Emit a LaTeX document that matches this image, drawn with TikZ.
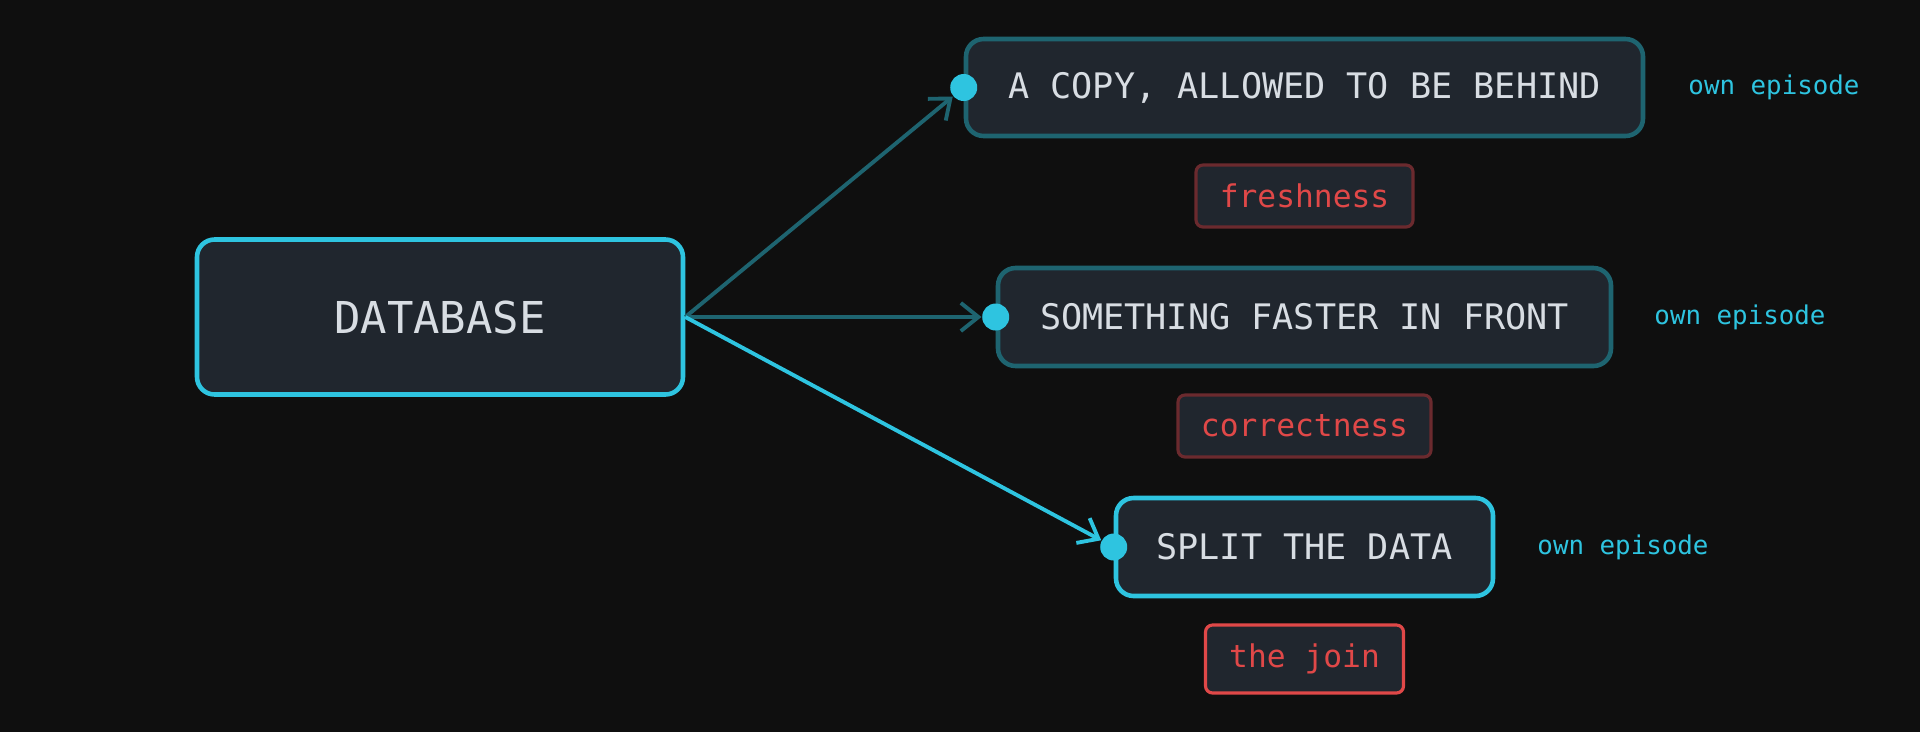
\documentclass[tikz,border=0pt]{standalone}
\usepackage{fontspec}
\setmonofont{DejaVu Sans Mono}
\usetikzlibrary{arrows.meta,positioning}
\definecolor{bgc}{HTML}{0F0F0F}
\definecolor{boxfill}{HTML}{20262E}
\definecolor{cyanc}{HTML}{2EC4E0}
\definecolor{dimc}{HTML}{1E6470}
\definecolor{txtc}{HTML}{D8DDE3}
\definecolor{redc}{HTML}{E04848}
\definecolor{dimred}{HTML}{6B2A2E}

\begin{document}
\begin{tikzpicture}[font=\ttfamily,
	box/.style={draw,line width=1.3pt,rounded corners=5pt,fill=boxfill,text=txtc,inner sep=0pt},
	tag/.style={draw,line width=0.9pt,rounded corners=2pt,fill=boxfill,text=redc,inner sep=0pt,font=\ttfamily\fontsize{8.9}{10}\selectfont},
	ep/.style={text=cyanc,font=\ttfamily\fontsize{7.35}{8}\selectfont},
	dot/.style={circle,fill=cyanc,inner sep=0pt,minimum size=0.27cm},
	link/.style={line width=1.1pt,-{Straight Barb[length=5pt,width=8pt]}}]
		\fill[bgc] (0,0) rectangle (19.2,7.32);
		\useasboundingbox (0,0) rectangle (19.2,7.32);
		
		\node[box,draw=cyanc,minimum width=4.86cm,minimum height=1.55cm,font=\ttfamily\fontsize{12.5}{14}\selectfont] (db) at (4.40,4.15) {DATABASE};
		
		\node[box,draw=dimc,minimum width=6.77cm,minimum height=0.97cm,font=\ttfamily\fontsize{10}{12}\selectfont] (copy) at (13.045,6.445) {A COPY, ALLOWED TO BE BEHIND};
		\node[box,draw=dimc,minimum width=6.13cm,minimum height=0.98cm,font=\ttfamily\fontsize{10}{12}\selectfont] (cache) at (13.045,4.15) {SOMETHING FASTER IN FRONT};
		\node[box,draw=cyanc,minimum width=3.77cm,minimum height=0.98cm,font=\ttfamily\fontsize{10}{12}\selectfont] (split) at (13.045,1.85) {SPLIT THE DATA};
		
		\node[tag,draw=dimred,minimum width=2.17cm,minimum height=0.62cm] (fresh) at (13.045,5.36) {freshness};
		\node[tag,draw=dimred,minimum width=2.53cm,minimum height=0.62cm] (correct) at (13.045,3.06) {correctness};
		\node[tag,draw=redc,minimum width=1.98cm,minimum height=0.68cm] (join) at (13.045,0.73) {the join};
		
		\node[ep] (ep1) at (17.74,6.45) {own episode};
		\node[ep] (ep2) at (17.40,4.15) {own episode};
		\node[ep] (ep3) at (16.23,1.85) {own episode};
		
		\node[dot] (d1) at (copy.west) {};
		\node[dot] (d2) at (cache.west) {};
		\node[dot] (d3) at (split.west) {};
		
		\draw[link,dimc] (db.east) -- (d1);
		\draw[link,dimc] (db.east) -- (d2);
		\draw[link,cyanc] (db.east) -- (d3);
	\end{tikzpicture}
\end{document}
